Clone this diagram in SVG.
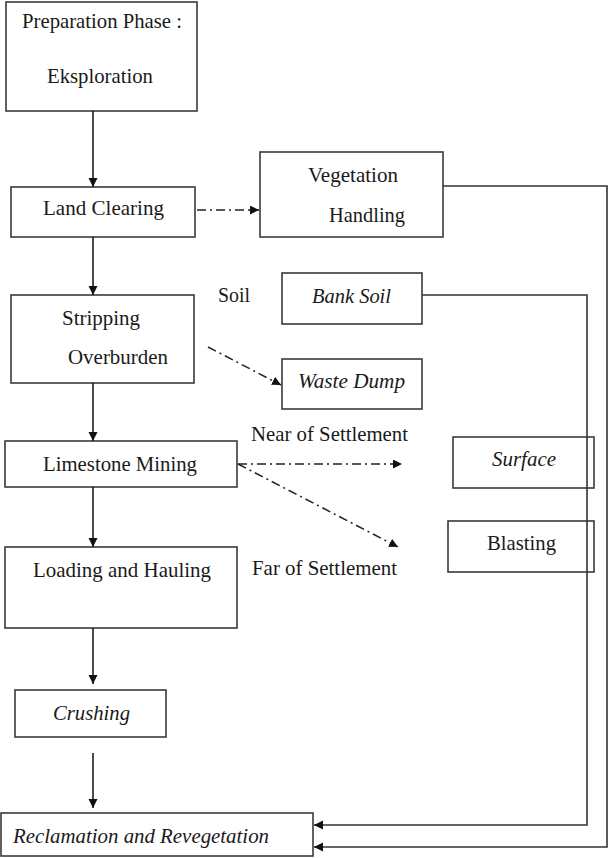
<svg xmlns="http://www.w3.org/2000/svg" width="611" height="858" viewBox="0 0 611 858">
  <defs>
    <marker id="arrow" markerUnits="userSpaceOnUse" markerWidth="10" markerHeight="10" refX="9" refY="4.5" orient="auto">
      <path d="M0,0 L9,4.5 L0,9 z" fill="#111"/>
    </marker>
    <style>
      .box { fill: #fff; stroke: #3a3a3a; stroke-width: 1.6; }
      .lbl { fill: #1a1a1a; }
      .it { font-style: italic; }
      .flow { fill: none; stroke: #111; stroke-width: 1.5; }
      .dd { fill: none; stroke: #222; stroke-width: 1.5; stroke-dasharray: 9 4 2 4; }
      .ret { fill: none; stroke: #333; stroke-width: 1.6; }
    </style>
  </defs>
  <rect width="611" height="858" fill="#fff"/>

  <!-- nodes: labels set in a Times-metric serif -->
  <g font-family="Liberation Serif, Times New Roman, serif" font-size="21">
  <g id="preparation">
    <rect class="box" x="6" y="2" width="191" height="109"/>
    <text class="lbl" x="22" y="28" textLength="160" lengthAdjust="spacingAndGlyphs">Preparation Phase :</text>
    <text class="lbl" x="47" y="83" textLength="106" lengthAdjust="spacingAndGlyphs">Eksploration</text>
  </g>
  <g id="land-clearing">
    <rect class="box" x="11" y="187" width="184" height="50"/>
    <text class="lbl" x="43" y="215" textLength="121" lengthAdjust="spacingAndGlyphs">Land Clearing</text>
  </g>
  <g id="vegetation-handling">
    <rect class="box" x="260" y="152" width="183" height="85"/>
    <text class="lbl" x="308" y="182" textLength="90" lengthAdjust="spacingAndGlyphs">Vegetation</text>
    <text class="lbl" x="329" y="222" textLength="76" lengthAdjust="spacingAndGlyphs">Handling</text>
  </g>
  <g id="stripping-overburden">
    <rect class="box" x="11" y="295" width="183" height="88"/>
    <text class="lbl" x="62" y="325" textLength="78" lengthAdjust="spacingAndGlyphs">Stripping</text>
    <text class="lbl" x="68" y="364" textLength="100" lengthAdjust="spacingAndGlyphs">Overburden</text>
  </g>
  <g id="soil-label">
    <text class="lbl" x="218" y="302" textLength="32" lengthAdjust="spacingAndGlyphs">Soil</text>
  </g>
  <g id="bank-soil">
    <rect class="box" x="282" y="273" width="140" height="51"/>
    <text class="lbl it" x="312" y="303" textLength="79" lengthAdjust="spacingAndGlyphs">Bank Soil</text>
  </g>
  <g id="waste-dump">
    <rect class="box" x="282" y="359" width="140" height="50"/>
    <text class="lbl it" x="298" y="388" textLength="107" lengthAdjust="spacingAndGlyphs">Waste Dump</text>
  </g>
  <g id="limestone-mining">
    <rect class="box" x="5" y="441" width="232" height="46"/>
    <text class="lbl" x="43" y="471" textLength="154" lengthAdjust="spacingAndGlyphs">Limestone Mining</text>
  </g>
  <g id="near-settlement-label">
    <text class="lbl" x="251" y="441" textLength="157" lengthAdjust="spacingAndGlyphs">Near of Settlement</text>
  </g>
  <g id="far-settlement-label">
    <text class="lbl" x="252" y="575" textLength="145" lengthAdjust="spacingAndGlyphs">Far of Settlement</text>
  </g>
  <g id="surface">
    <rect class="box" x="453" y="437" width="141" height="51"/>
    <text class="lbl it" x="492" y="466" textLength="64" lengthAdjust="spacingAndGlyphs">Surface</text>
  </g>
  <g id="blasting">
    <rect class="box" x="448" y="521" width="146" height="51"/>
    <text class="lbl" x="487" y="550" textLength="69" lengthAdjust="spacingAndGlyphs">Blasting</text>
  </g>
  <g id="loading-hauling">
    <rect class="box" x="5" y="547" width="232" height="81"/>
    <text class="lbl" x="33" y="577" textLength="178" lengthAdjust="spacingAndGlyphs">Loading and Hauling</text>
  </g>
  <g id="crushing">
    <rect class="box" x="15" y="690" width="151" height="47"/>
    <text class="lbl it" x="53" y="720" textLength="77" lengthAdjust="spacingAndGlyphs">Crushing</text>
  </g>
  <g id="reclamation">
    <rect class="box" x="1" y="813" width="312" height="43"/>
    <text class="lbl it" x="13" y="843" textLength="256" lengthAdjust="spacingAndGlyphs">Reclamation and Revegetation</text>
  </g>
  </g>

  <!-- connectors -->
  <g id="connectors">
    <line class="flow" x1="93" y1="111" x2="93" y2="187" marker-end="url(#arrow)"/>
    <line class="flow" x1="93" y1="237" x2="93" y2="295" marker-end="url(#arrow)"/>
    <line class="flow" x1="93" y1="383" x2="93" y2="441" marker-end="url(#arrow)"/>
    <line class="flow" x1="93" y1="487" x2="93" y2="547" marker-end="url(#arrow)"/>
    <line class="flow" x1="93" y1="628" x2="93" y2="684" marker-end="url(#arrow)"/>
    <line class="flow" x1="93" y1="753" x2="93" y2="808" marker-end="url(#arrow)"/>

    <line class="dd" x1="197" y1="210" x2="259" y2="210" marker-end="url(#arrow)"/>
    <line class="dd" x1="208" y1="347" x2="281" y2="385" marker-end="url(#arrow)"/>
    <line class="dd" x1="238" y1="464" x2="402" y2="464" marker-end="url(#arrow)"/>
    <line class="dd" x1="238" y1="464" x2="398" y2="547" marker-end="url(#arrow)"/>

    <polyline class="ret" points="443,186 607,186 607,847 314,847" marker-end="url(#arrow)"/>
    <polyline class="ret" points="422,295 587,295 587,825 314,825" marker-end="url(#arrow)"/>
  </g>
</svg>
